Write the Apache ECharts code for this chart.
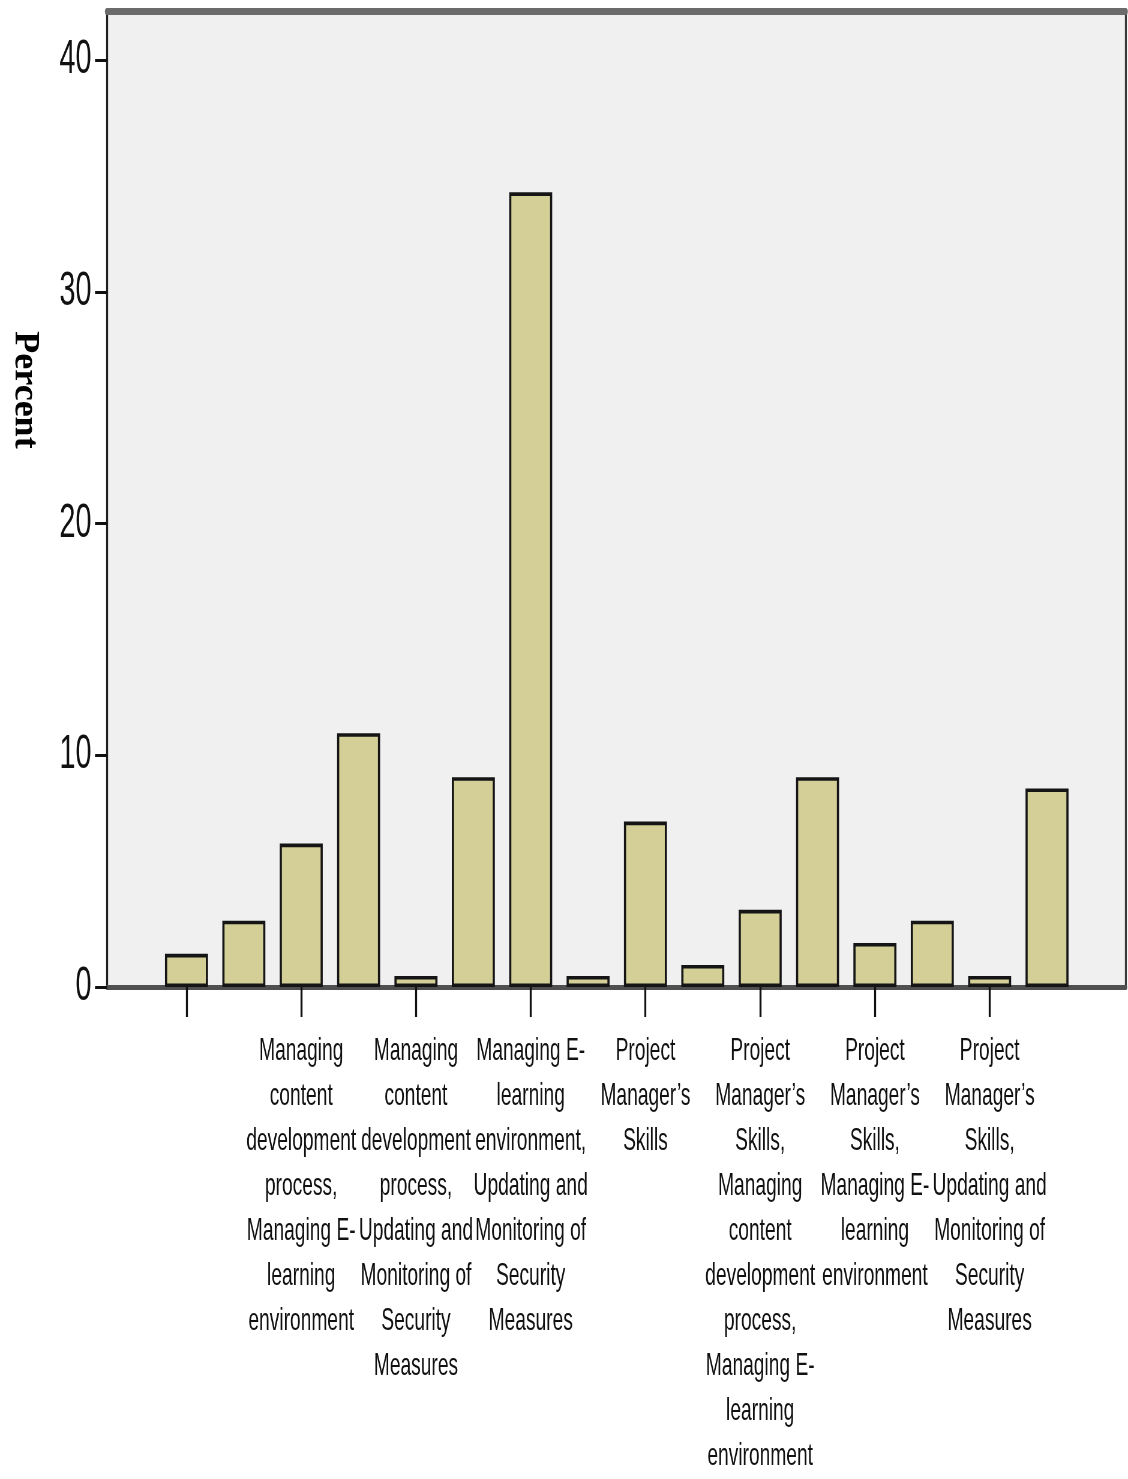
<!DOCTYPE html>
<html>
<head>
<meta charset="utf-8">
<script src="https://cdn.jsdelivr.net/npm/echarts@6/dist/echarts.min.js"></script>
<style>
  html, body { margin: 0; padding: 0; overflow: hidden; background: #ffffff; }
  #wrap { width: 1128px; height: 1479px; overflow: hidden; position: relative; }
  #chart { width: 1880px; height: 1479px; transform: scaleX(0.6); transform-origin: 0 0; }
</style>
</head>
<body>
<div id="wrap"><div id="chart"></div></div>
<script>
// ---- data ----
const categories = [
  "",
  "Managing content development process",
  "Managing content development process, Managing E-learning environment",
  "Managing content development process, Managing E-learning environment, Updating and Monitoring of Security Measures",
  "Managing content development process, Updating and Monitoring of Security Measures",
  "Managing E-learning environment",
  "Managing E-learning environment, Updating and Monitoring of Security Measures",
  "Managing content development process, Project Manager’s Skills",
  "Project Manager’s Skills",
  "Project Manager’s Skills, Managing content development process",
  "Project Manager’s Skills, Managing content development process, Managing E-learning environment",
  "Project Manager’s Skills, Managing content development process, Managing E-learning environment, Updating and Monitoring of Security Measures",
  "Project Manager’s Skills, Managing E-learning environment",
  "Project Manager’s Skills, Managing E-learning environment, Updating and Monitoring of Security Measures",
  "Project Manager’s Skills, Updating and Monitoring of Security Measures",
  "Updating and Monitoring of Security Measures"
];
const percentValues = [1.43, 2.86, 6.19, 10.95, 0.48, 9.05, 34.29, 0.48, 7.14, 0.95, 3.33, 9.05, 1.90, 2.86, 0.48, 8.57];
const yTicks = [0, 10, 20, 30, 40];
const yAxisTitle = "Percent";

// ---- layout (chart drawn in a horizontally stretched space, then squeezed by CSS) ----
const S = 0.6;
const W = 1880;
const px = v => v / S;

function wrapLabel(name, maxChars) {
  if (!name) return '';
  const tokens = [];
  name.split(' ').forEach((w, wi) => {
    const parts = w.split(/(?<=-)(?=.)/);
    parts.forEach((p, pi) => tokens.push({ t: p, sep: (pi === 0 && wi > 0) ? ' ' : '' }));
  });
  const lines = [];
  let cur = '';
  tokens.forEach(tok => {
    if (!cur) cur = tok.t;
    else if ((cur + tok.sep + tok.t).length <= maxChars) cur += tok.sep + tok.t;
    else { lines.push(cur); cur = tok.t; }
  });
  if (cur) lines.push(cur);
  return lines.join('\n');
}

const chart = echarts.init(document.getElementById('chart'), null, { renderer: 'canvas' });

const plotLeft = 107, plotRight = 1125.7, plotTop = 11, axisY = 987, tickTop = 60;
const catLeft = 157.8, catWidth = 917.9;

const frameAxis = (extra) => Object.assign({
  min: 0, max: 1, type: 'value',
  axisTick: { show: false }, axisLabel: { show: false }, splitLine: { show: false }
}, extra);

const option = {
  animation: false,
  backgroundColor: '#ffffff',
  grid: [
    {
      left: px(plotLeft), right: W - px(plotRight), top: plotTop, bottom: 1479 - axisY,
      show: true, backgroundColor: '#f0f0f0', borderWidth: 0,
      containLabel: false, outerBoundsMode: 'none'
    },
    {
      left: px(catLeft), width: px(catWidth), top: tickTop, bottom: 1479 - axisY,
      containLabel: false, outerBoundsMode: 'none'
    }
  ],
  xAxis: [
    frameAxis({
      gridIndex: 0, position: 'bottom',
      axisLine: { show: true, onZero: false, lineStyle: { color: '#505050', width: 5 } }
    }),
    frameAxis({
      gridIndex: 0, position: 'top',
      axisLine: { show: true, onZero: false, lineStyle: { color: '#6b6b6b', width: 7 } }
    }),
    {
      gridIndex: 1, type: 'category', data: categories, position: 'bottom',
      axisLine: { show: false, onZero: false },
      axisTick: { show: true, interval: 1, alignWithLabel: true, length: 30,
        lineStyle: { color: '#111111', width: 3.3 } },
      axisLabel: {
        interval: 1, margin: 42, color: '#111111',
        fontFamily: '"Liberation Sans", Arial, sans-serif', fontSize: 32, lineHeight: 45,
        align: 'center', verticalAlign: 'top',
        formatter: v => wrapLabel(v, 13)
      },
      splitLine: { show: false }
    }
  ],
  yAxis: [
    frameAxis({
      gridIndex: 0, position: 'left',
      axisLine: { show: true, onZero: false, lineStyle: { color: '#1e1e1e', width: 3.3 } }
    }),
    frameAxis({
      gridIndex: 0, position: 'right',
      axisLine: { show: true, onZero: false, lineStyle: { color: '#3a3a3a', width: 3.3 } }
    }),
    {
      gridIndex: 1, type: 'value', position: 'left',
      min: yTicks[0], max: yTicks[yTicks.length - 1], interval: yTicks[1] - yTicks[0],
      offset: px(catLeft) - px(plotLeft),
      axisLine: { show: false, onZero: false },
      axisTick: { show: true, length: 20, lineStyle: { color: '#111111', width: 3 } },
      axisLabel: {
        margin: 26, color: '#111111', fontSize: 48,
        fontFamily: '"Liberation Sans Narrow", "Arial Narrow", "Liberation Sans", sans-serif'
      },
      splitLine: { show: false }
    }
  ],
  graphic: [
    {
      type: 'text', x: px(25), y: 390, rotation: -Math.PI / 2, scaleX: 1, scaleY: 1 / S,
      style: {
        text: yAxisTitle, fill: '#000000',
        font: 'bold 36px "Liberation Serif", "Times New Roman", serif',
        textAlign: 'center', textVerticalAlign: 'middle'
      }
    }
  ],
  series: [
    {
      type: 'bar', xAxisIndex: 2, yAxisIndex: 2, data: percentValues,
      barWidth: '75%',
      itemStyle: { color: '#d3cf97', borderColor: '#151515', borderWidth: 3.6 },
      emphasis: { disabled: true }
    }
  ]
};
chart.setOption(option);
</script>
</body>
</html>
